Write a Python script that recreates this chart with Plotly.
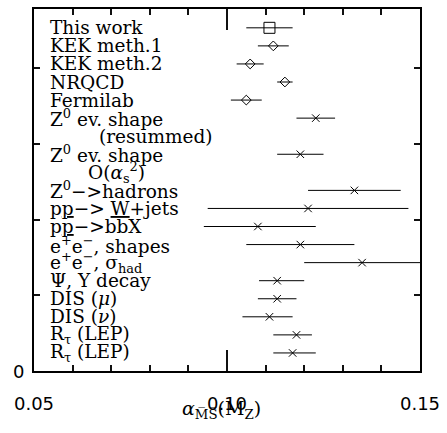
import plotly.graph_objects as go

# ---- data ----
labels = [
    "This work", "KEK meth.1", "KEK meth.2", "NRQCD", "Fermilab",
    "Z<sup>0</sup> ev. shape", "Z<sup>0</sup> ev. shape",
    "Z<sup>0</sup>−>hadrons", "p<u>p</u>−> <u>W</u>+jets", "p<u>p</u>−>bbX",
    "e<sup>+</sup>e<sup>−</sup>, shapes", "e<sup>+</sup>e<sup>−</sup>, σ<sub>had</sub>",
    "Ψ, Υ decay", "DIS (<i>μ</i>)", "DIS (<i>ν</i>)",
    "R<sub>τ</sub> (LEP)", "R<sub>τ</sub> (LEP)",
]
alpha_values = [0.111, 0.112, 0.106, 0.115, 0.105, 0.123, 0.119, 0.133, 0.121,
                0.108, 0.119, 0.135, 0.113, 0.113, 0.111, 0.118, 0.117]
err_plus = [0.006, 0.004, 0.0035, 0.002, 0.004, 0.005, 0.006, 0.012, 0.026,
            0.015, 0.014, 0.015, 0.007, 0.005, 0.006, 0.004, 0.006]
err_minus = [0.006, 0.004, 0.0035, 0.002, 0.004, 0.005, 0.006, 0.012, 0.026,
             0.014, 0.014, 0.015, 0.0047, 0.005, 0.007, 0.006, 0.005]
row_slots = [19, 18, 17, 16, 15, 14, 12, 10, 9, 8, 7, 6, 5, 4, 3, 2, 1]
marker_kind = ["square"] + ["diamond"] * 4 + ["x"] * 12
sub_labels = {5: "(resummed)", 6: "O(<i>α</i><sub>s</sub><sup>2</sup>)"}
x_range = [0.05, 0.15]

SLOT = 0.2385
ys = [s * SLOT for s in row_slots]
TICK = "#111111"

fig = go.Figure()
styles = {
    "square": dict(symbol="square-open", size=11),
    "diamond": dict(symbol="diamond-open", size=7.5),
    "x": dict(symbol="x-thin-open", size=7.5),
}
for kind, st in styles.items():
    idx = [i for i, k in enumerate(marker_kind) if k == kind]
    fig.add_trace(go.Scatter(
        x=[alpha_values[i] for i in idx],
        y=[ys[i] for i in idx],
        mode="markers",
        marker=dict(symbol=st["symbol"], size=st["size"], color="black",
                    line=dict(color="black", width=1)),
        error_x=dict(type="data", symmetric=False,
                     array=[err_plus[i] for i in idx],
                     arrayminus=[err_minus[i] for i in idx],
                     color="black", thickness=1, width=0),
        showlegend=False,
    ))
# invisible carriers for the minor-tick axis and the tick-label axis
for ax in ("x2", "x3"):
    fig.add_trace(go.Scatter(x=x_range, y=[0, 0], xaxis=ax, mode="none",
                             showlegend=False, hoverinfo="skip"))

serif = "DejaVu Serif"
for i, lab in enumerate(labels):
    fig.add_annotation(x=0.0535, y=ys[i], xref="x", yref="y", text=lab,
                       showarrow=False, xanchor="left", yanchor="middle",
                       font=dict(family=serif, size=18.5, color="black"))
for i, lab in sub_labels.items():
    xoff = 0.0662 if i == 5 else 0.0634
    fig.add_annotation(x=xoff, y=ys[i] - SLOT, xref="x", yref="y", text=lab,
                       showarrow=False, xanchor="left", yanchor="middle",
                       font=dict(family=serif, size=18.5, color="black"))

# y-axis origin label
fig.add_annotation(x=0, y=0, xref="paper", yref="y", text="0",
                   showarrow=False, xanchor="right", yanchor="middle", xshift=-8,
                   font=dict(family="DejaVu Sans", size=18, color="black"))

fig.add_annotation(x=0.487, y=-0.105, xref="paper", yref="paper",
                   text="<i>α</i><sub>M\u0305S\u0305</sub>(M<sub>Z</sub>)",
                   showarrow=False, xanchor="center", yanchor="middle",
                   font=dict(family=serif, size=19, color="black"))

fig.update_layout(
    width=447, height=433,
    margin=dict(l=34, r=25, t=7, b=62),
    paper_bgcolor="white", plot_bgcolor="rgba(0,0,0,0)",
    xaxis=dict(range=x_range, tick0=0.05, dtick=0.05, showticklabels=False,
               ticks="inside", ticklen=21, tickwidth=1.5, tickcolor=TICK,
               showline=True, linecolor="black", linewidth=1.5, mirror="ticks",
               showgrid=False, zeroline=False),
    xaxis2=dict(range=x_range, overlaying="x", side="bottom", tick0=0.05,
                dtick=0.01, showticklabels=False,
                ticks="inside", ticklen=6, tickwidth=1.5, tickcolor=TICK,
                showline=True, linecolor="black", linewidth=1.5, mirror="ticks",
                showgrid=False, zeroline=False),
    xaxis3=dict(range=x_range, overlaying="x", side="bottom", tick0=0.05,
                dtick=0.05, tickformat=".2f",
                ticks="outside", ticklen=16, tickcolor="rgba(0,0,0,0)",
                showline=False, showgrid=False, zeroline=False,
                tickfont=dict(family="DejaVu Sans", size=18, color="black")),
    yaxis=dict(range=[0, 4.78], tick0=0, dtick=1, showticklabels=False,
               ticks="inside", ticklen=6, tickwidth=1.5, tickcolor=TICK,
               showline=True, linecolor="black", linewidth=1.5, mirror="ticks",
               showgrid=False, zeroline=False),
)

fig.write_html("out.html")
